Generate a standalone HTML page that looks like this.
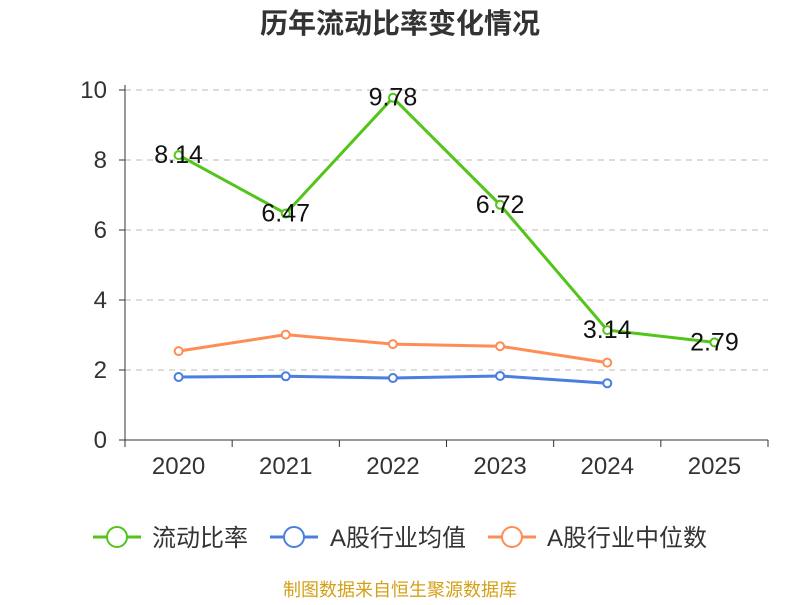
<!DOCTYPE html>
<html><head><meta charset="utf-8"><style>
body{margin:0;background:#fff;}
svg text{font-family:"Liberation Sans","Noto Sans CJK SC",sans-serif;}
</style></head><body>
<svg id="chart" width="800" height="600" xmlns="http://www.w3.org/2000/svg">
<text x="400" y="33" text-anchor="middle" font-size="28" font-weight="bold" fill="#333">历年流动比率变化情况</text>
<g id="grid"></g><g id="axes"></g><g id="series"></g>
<g>
<g><line x1="93" y1="537" x2="141" y2="537" stroke="#52c41a" stroke-width="3"/><circle cx="117" cy="537" r="10" fill="#fff" stroke="#52c41a" stroke-width="2"/><text x="152" y="546" font-size="24" fill="#333">流动比率</text></g>
<g><line x1="270" y1="537" x2="318" y2="537" stroke="#4a7fe0" stroke-width="3"/><circle cx="294" cy="537" r="10" fill="#fff" stroke="#4a7fe0" stroke-width="2"/><text x="330" y="546" font-size="24" fill="#333">A股行业均值</text></g>
<g><line x1="488" y1="537" x2="536" y2="537" stroke="#ff8c55" stroke-width="3"/><circle cx="512" cy="537" r="10" fill="#fff" stroke="#ff8c55" stroke-width="2"/><text x="547" y="546" font-size="24" fill="#333">A股行业中位数</text></g>
</g>
<text x="400" y="596" text-anchor="middle" font-size="18" fill="#d4a017">制图数据来自恒生聚源数据库</text>
</svg>
<script>
const categories=["2020","2021","2022","2023","2024","2025"];
const currentRatio=[8.14,6.47,9.78,6.72,3.14,2.79];
const industryMean=[1.80,1.82,1.77,1.83,1.62];
const industryMedian=[2.54,3.01,2.74,2.68,2.21];
const yTicks=[0,2,4,6,8,10];
const NS="http://www.w3.org/2000/svg";
const X0=125,X1=768,Y0=440,Y1=90;
const bw=(X1-X0)/categories.length;
const xs=i=>X0+bw*(i+0.5);
const ys=v=>Y0-(v/10)*(Y0-Y1);
function mk(tag,attrs,parent){const e=document.createElementNS(NS,tag);for(const k in attrs)e.setAttribute(k,attrs[k]);document.getElementById(parent).appendChild(e);return e;}
yTicks.forEach(t=>{
 if(t>0){const g=mk("line",{x1:X0,x2:X1,y1:ys(t),y2:ys(t),stroke:"#bbb","stroke-dasharray":"6,5"},"grid");
 
 }
 const tk=mk("line",{x1:X0-6,x2:X0,y1:ys(t),y2:ys(t),stroke:"#333"},"axes");
 
 
 const l=mk("text",{x:X0-18,y:ys(t)+8,"text-anchor":"end","font-size":"24",fill:"#333"},"axes");l.textContent=t;
 
 
});
const ya=mk("line",{x1:X0,x2:X0,y1:Y1-5,y2:Y0,stroke:"#333"},"axes");


const xa=mk("line",{x1:X0,x2:X1,y1:Y0,y2:Y0,stroke:"#333"},"axes");


for(let i=0;i<=categories.length;i++){const t=mk("line",{x1:X0+bw*i,x2:X0+bw*i,y1:Y0,y2:Y0+7,stroke:"#333"},"axes");
 
 }
categories.forEach((c,i)=>{const l=mk("text",{x:xs(i),y:Y0+34,"text-anchor":"middle","font-size":"24",fill:"#333"},"axes");l.textContent=c;
 
 });
function series(data,color,name,labels){
 const p=mk("polyline",{points:data.map((v,i)=>xs(i)+","+ys(v)).join(" "),fill:"none",stroke:color,"stroke-width":3},"series");
 
 
 data.forEach((v,i)=>{const c=mk("circle",{cx:xs(i),cy:ys(v),r:4,fill:"#fff",stroke:color,"stroke-width":2},"series");
  
  
  if(labels){const t=mk("text",{x:xs(i),y:ys(v)+8,"text-anchor":"middle","font-size":"25",fill:"#111"},"series");t.textContent=v.toFixed(2);
  
  }
 });
}
series(industryMedian,"#ff8c55","industry-median",false);
series(industryMean,"#4a7fe0","industry-mean",false);
series(currentRatio,"#52c41a","current-ratio",true);
</script>
</body></html>
